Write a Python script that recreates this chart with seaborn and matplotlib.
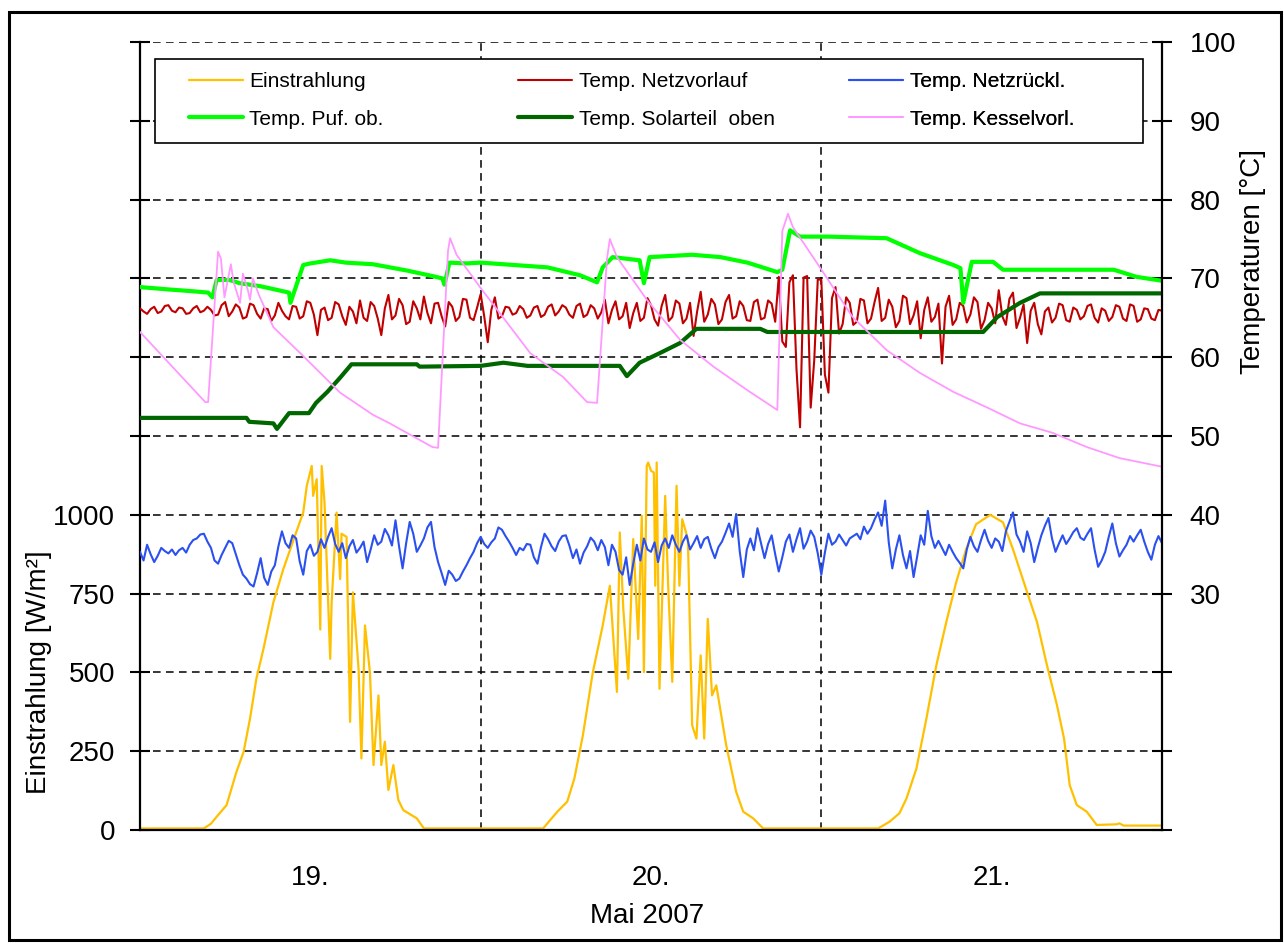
import matplotlib
matplotlib.use("Agg")
import matplotlib.pyplot as plt
from matplotlib.patches import Rectangle
from matplotlib.ticker import FuncFormatter
import seaborn as sns
import numpy as np

# x axis: hours since 19.05.2007 00:00
days = ["19.", "20.", "21."]

# Einstrahlung [W/m²] (hour, value)
sun_h = [0, 4.5, 5.0, 5.4, 6.1, 6.8, 7.3, 7.75, 8.2, 8.7, 9.4, 10.1, 11.0, 11.5, 11.75, 12.1,
         12.2, 12.45, 12.7, 12.8, 13.0, 13.4, 13.5, 13.85, 14.1, 14.2, 14.55, 14.8, 15.0, 15.4,
         15.6, 15.85, 16.2, 16.45, 16.8, 17.0, 17.25, 17.5, 17.85, 18.2, 18.55, 19.5, 20.0,
         28.4, 29.4, 30.1, 30.6, 31.2, 31.9, 32.6, 33.1, 33.6, 33.8, 34.05, 34.4, 34.75, 35.1,
         35.35, 35.5, 35.7, 35.8, 36.0, 36.2, 36.3, 36.4, 36.6, 37.0, 37.2, 37.5, 37.8, 38.0,
         38.2, 38.6, 38.9, 39.2, 39.5, 39.75, 40.0, 40.3, 40.6, 41.3, 42.0, 42.5, 43.2, 43.9,
         52.0, 52.8, 53.5, 54.0, 54.7, 55.4, 56.1, 56.8, 57.5, 58.2, 58.9, 59.9, 60.8, 61.5,
         62.5, 63.2, 63.9, 64.6, 65.1, 65.5, 66.0, 66.7, 67.4, 68.8, 69.0, 69.3, 72.0]
sun_w = [5, 5, 20, 42, 79, 185, 248, 353, 480, 575, 723, 828, 944, 1007, 1092, 1155,
         1060, 1113, 636, 1155, 1039, 543, 720, 1007, 796, 940, 930, 343, 754, 510,
         227, 649, 500, 206, 427, 206, 280, 127, 206, 95, 63, 37, 5,
         5, 58, 90, 163, 300, 500, 649, 775, 438, 944, 701, 480, 923, 606,
         997, 501, 1155, 1166, 1140, 1134, 775, 1166, 448, 1060, 786, 470, 1092, 775,
         986, 923, 332, 290, 554, 290, 670, 427, 459, 269, 121, 58, 37, 5,
         5, 26, 53, 100, 195, 353, 522, 659, 786, 891, 970, 1000, 976, 891,
         754, 659, 522, 396, 290, 142, 79, 58, 16, 18, 21, 14, 14]

# Temp. Netzvorlauf [°C], every 15 min
vorlauf = [66.2, 65.8, 65.5, 66.1, 66.4, 65.6, 65.8, 66.5, 66.6, 65.9, 65.7, 66.3,
           66.2, 65.5, 65.6, 66.2, 66.5, 65.7, 65.9, 66.4, 66.0, 65.3, 65.4, 66.6,
           67.0, 65.2, 65.8, 66.7, 66.3, 64.9, 65.1, 66.8, 66.6, 65.5, 64.9, 66.2,
           66.1, 64.6, 65.3, 66.9, 65.9, 65.2, 64.8, 66.5, 66.4, 64.9, 65.2, 67.1,
           66.9, 65.4, 62.8, 66.0, 66.3, 64.7, 65.0, 67.0, 66.7, 65.2, 64.1, 66.4,
           65.8, 64.3, 67.2, 65.0, 64.6, 67.0, 66.5, 64.9, 62.8, 66.2, 67.9, 64.8,
           65.3, 67.4, 66.6, 64.2, 64.5, 67.1, 66.2, 64.8, 67.7, 65.6, 64.3, 66.8,
           66.9, 65.2, 63.9, 67.0, 66.4, 64.6, 65.1, 67.4, 67.3, 65.0, 64.7, 66.3,
           68.0, 65.2, 61.9, 66.0, 67.6, 64.9, 65.2, 66.4, 66.3, 65.4, 65.6, 66.5,
           66.1, 65.0, 65.3, 66.3, 66.5, 65.1, 65.4, 66.4, 66.7, 65.3, 65.8, 66.6,
           66.3, 65.4, 65.0, 66.5, 66.8, 65.1, 65.4, 66.6, 66.2, 64.9, 65.7, 67.3,
           64.3, 66.0, 67.1, 64.8, 65.2, 66.9, 63.7, 65.6, 66.9, 64.6, 65.0, 67.5,
           66.6, 64.8, 64.0, 66.5, 67.9, 64.6, 65.1, 67.2, 66.8, 64.3, 64.9, 66.9,
           62.7, 65.8, 68.3, 64.5, 65.4, 67.4, 66.7, 64.2, 64.8, 67.0, 67.9, 64.9,
           65.2, 67.1, 66.5, 64.7, 64.6, 67.0, 67.3, 64.8, 65.0, 67.2, 66.8, 64.5,
           70.2, 62.0, 61.3, 69.5, 70.4, 58.5, 51.1, 70.1, 70.3, 53.6, 59.6, 69.9,
           69.8, 57.8, 55.5, 67.5, 68.9, 63.0, 64.2, 67.6, 66.9, 64.1, 64.5, 67.4,
           67.2, 64.3, 64.9, 67.0, 68.8, 64.6, 65.0, 67.3, 66.4, 63.8, 64.6, 67.8,
           67.5, 64.2, 65.3, 67.1, 62.4, 66.0, 67.6, 64.5, 65.1, 66.8, 59.2, 66.4,
           67.8, 64.1, 64.8, 66.9, 66.5, 64.4, 65.4, 67.6, 67.0, 63.6, 64.7, 66.9,
           66.2, 64.3, 68.5, 65.2, 64.1, 67.4, 68.2, 63.7, 65.0, 66.7, 61.8, 65.9,
           66.9, 64.2, 62.9, 65.8, 66.3, 64.4, 65.0, 66.8, 66.6, 64.7, 64.5, 66.3,
           66.0, 64.8, 65.2, 66.5, 66.7, 65.0, 64.4, 66.2, 65.9, 64.6, 65.1, 66.6,
           66.4, 64.9, 64.6, 66.7, 66.5, 64.5, 64.8, 66.2, 66.1, 64.9, 64.7, 66.0,
           65.9]

# Temp. Netzrückl. [°C], every 15 min
ruecklauf = [35.3, 34.2, 36.2, 35.0, 34.0, 34.8, 35.8, 35.4, 35.1, 35.6, 34.9, 35.5,
             35.8, 35.2, 36.2, 36.8, 37.0, 37.5, 37.6, 36.6, 35.8, 34.2, 33.8, 34.9,
             35.8, 36.7, 36.4, 35.0, 33.6, 32.4, 31.9, 31.2, 30.9, 32.6, 34.5, 32.0,
             31.1, 32.8, 33.6, 36.0, 37.9, 36.4, 35.8, 37.4, 37.0, 34.1, 32.4, 35.4,
             36.2, 34.8, 35.3, 36.9, 35.8, 37.2, 38.3, 36.3, 35.3, 36.4, 34.5, 36.0,
             36.8, 35.2, 35.8, 36.6, 34.0, 35.6, 37.4, 36.2, 36.6, 38.2, 37.4, 36.1,
             39.3, 36.0, 33.2, 36.4, 39.1, 37.6, 35.3, 36.1, 37.0, 38.4, 39.1, 35.9,
             34.0, 32.6, 31.1, 32.9, 32.4, 31.6, 31.9, 32.8, 33.6, 34.5, 35.3, 36.4,
             37.2, 36.3, 35.8, 36.5, 37.0, 38.4, 38.1, 37.3, 36.6, 35.8, 34.9, 35.8,
             35.5, 36.3, 36.2, 34.6, 33.8, 35.9, 37.6, 36.9, 36.0, 35.4, 36.6, 37.3,
             37.4, 36.1, 34.5, 35.6, 33.8, 35.2, 36.0, 37.1, 36.6, 35.5, 36.8, 35.9,
             33.6, 36.2, 35.3, 33.0, 32.4, 34.6, 31.1, 33.8, 36.2, 34.2, 37.0, 35.6,
             35.3, 36.5, 34.0, 36.1, 37.0, 35.8, 37.4, 36.2, 35.3, 36.6, 37.4, 35.6,
             36.4, 37.3, 35.8, 36.9, 37.2, 35.7, 34.5, 35.9, 36.6, 37.7, 38.9, 37.2,
             40.1, 35.4, 32.1, 35.6, 37.0, 35.5, 38.3, 36.4, 34.5, 36.3, 37.4, 35.0,
             32.8, 34.6, 36.6, 37.5, 35.3, 36.9, 38.3, 35.7, 36.6, 38.0, 37.2, 35.1,
             32.4, 35.2, 37.6, 36.2, 36.6, 37.5, 36.8, 36.1, 37.0, 37.3, 37.6, 36.9,
             38.5, 37.6, 38.3, 39.4, 40.3, 38.6, 41.8, 36.5, 33.2, 35.6, 37.4, 34.9,
             33.2, 35.4, 32.1, 34.7, 37.4, 36.2, 40.5, 37.3, 35.8, 36.7, 35.8, 34.9,
             36.2, 35.3, 34.5, 33.9, 33.2, 35.6, 37.2, 36.0, 35.3, 36.8, 38.1, 36.7,
             35.8, 37.0, 36.6, 35.4, 37.9, 39.1, 40.3, 37.5, 36.6, 35.3, 37.9, 36.4,
             34.0, 35.8, 37.4, 38.6, 39.6, 37.0, 35.3, 36.4, 37.4, 36.3, 37.0, 37.8,
             38.3, 37.1, 36.8, 37.6, 38.3, 35.6, 33.4, 34.2, 35.3, 37.2, 38.9, 36.4,
             34.7, 35.5, 36.2, 37.3, 36.6, 37.4, 38.1, 36.6, 35.3, 34.3, 36.2, 37.3,
             36.4]

# Temp. Puf. ob. [°C] (hour, value)
puf_h = [0, 2.0, 3.5, 4.8, 5.1, 5.4, 6.3, 7.0, 8.5, 10.5, 10.6, 11.5, 12.0, 13.4, 14.5,
         16.4, 18.8, 20.6, 21.3, 21.45, 21.8, 23.0, 24.0, 28.7, 31.0, 32.2, 32.6, 33.3,
         35.2, 35.5, 35.9, 38.9, 40.9, 42.8, 44.9, 45.25, 45.8, 46.5, 48.5, 52.6, 54.95,
         57.3, 57.8, 58.0, 58.6, 60.1, 60.8, 68.6, 70.2, 72.0]
puf_t = [68.9, 68.6, 68.4, 68.2, 67.6, 69.8, 69.8, 69.4, 69.0, 68.2, 66.9, 71.7, 71.9, 72.3, 72.0,
         71.8, 71.0, 70.3, 70.0, 69.2, 72.0, 71.9, 72.0, 71.4, 70.4, 69.5, 71.4, 72.7,
         72.3, 69.4, 72.7, 73.0, 72.7, 72.0, 70.8, 71.1, 76.1, 75.3, 75.3, 75.1, 73.2,
         71.7, 71.3, 66.9, 72.1, 72.1, 71.1, 71.1, 70.2, 69.7]

# Temp. Solarteil oben [°C] (hour, value)
solar_h = [0, 7.5, 7.7, 9.4, 9.65, 10.5, 11.9, 12.4, 13.2, 14.1, 14.9, 19.5, 19.7, 24.0,
           25.6, 27.3, 33.8, 34.3, 35.2, 36.6, 38.05, 39.2, 43.7, 44.2, 59.4, 60.4, 62.0,
           63.4, 72.0]
solar_t = [52.3, 52.3, 51.8, 51.6, 50.9, 52.9, 52.9, 54.2, 55.6, 57.4, 59.1, 59.1, 58.8, 58.9,
           59.3, 58.9, 58.9, 57.6, 59.3, 60.5, 61.8, 63.6, 63.6, 63.2, 63.2, 65.1, 66.9,
           68.1, 68.1]

# Temp. Kesselvorl. [°C] (hour, value)
kessel_h = [0, 4.6, 4.8, 5.5, 5.7, 5.95, 6.4, 6.6, 7.05, 7.25, 7.6, 7.75, 7.95, 8.4, 9.4,
            11.3, 14.1, 16.4, 17.6, 20.6, 21.0, 21.7, 21.85, 22.3, 23.95, 27.5, 29.8, 31.5,
            32.2, 32.9, 33.1, 33.6, 35.7, 38.05, 40.4, 42.8, 44.9, 45.25, 45.65, 46.0, 47.9,
            50.2, 52.6, 54.95, 57.3, 59.7, 62.0, 64.3, 66.7, 69.0, 72.0]
kessel_t = [63.2, 54.3, 54.3, 73.4, 72.5, 67.6, 71.8, 69.5, 66.9, 70.6, 68.5, 67.3, 70.0, 67.8, 63.8,
            60.5, 55.5, 52.7, 51.6, 48.6, 48.5, 73.5, 75.1, 73.0, 68.9, 60.5, 57.5, 54.3,
            54.2, 72.5, 75.0, 72.7, 67.3, 62.2, 58.8, 55.8, 53.3, 76.0, 78.2, 76.5, 71.4,
            65.1, 60.9, 58.0, 55.6, 53.6, 51.6, 50.4, 48.6, 47.2, 46.1]

vorlauf_h = np.arange(len(vorlauf)) * 0.25
ruecklauf_h = np.arange(len(ruecklauf)) * 0.25

sns.set_style("white")
plt.rcParams["font.family"] = ["Liberation Sans", "DejaVu Sans"]
for key in ["text.color", "axes.labelcolor", "xtick.color", "ytick.color"]:
    plt.rcParams[key] = "black"

fig = plt.figure(figsize=(12.84, 9.43), dpi=100)
ax = fig.add_axes([0.10903, 0.11983, 0.79595, 0.83563])
ax2 = ax.twinx()

kw = dict(estimator=None, sort=False, legend=False)
sns.lineplot(x=sun_h, y=sun_w, ax=ax, color="#FFC000", linewidth=1.6, **kw)
sns.lineplot(x=vorlauf_h, y=vorlauf, ax=ax2, color="#C00000", linewidth=1.5, **kw)
sns.lineplot(x=ruecklauf_h, y=ruecklauf, ax=ax2, color="#2B50F0", linewidth=1.5, **kw)
sns.lineplot(x=puf_h, y=puf_t, ax=ax2, color="#00FF00", linewidth=3.0, **kw)
sns.lineplot(x=solar_h, y=solar_t, ax=ax2, color="#006600", linewidth=3.0, **kw)
sns.lineplot(x=kessel_h, y=kessel_t, ax=ax2, color="#FF99FF", linewidth=1.3, **kw)

labels = ["Einstrahlung", "Temp. Netzvorlauf", "Temp. Netzrückl.",
          "Temp. Puf. ob.", "Temp. Solarteil  oben", "Temp. Kesselvorl."]
handles = ax.get_lines()[:1] + ax2.get_lines()[:5]

# axes ranges and ticks
ax.set_xlim(0, 72)
ax.set_ylim(0, 2500)
ax2.set_ylim(0, 100)
ax.set_xticks([0, 24, 48, 72])
ax.set_xticklabels([])
ax.set_xticks([12, 36, 60], minor=True)
ax.set_xticklabels(days, minor=True)
ax.set_yticks(np.arange(0, 2501, 250))
ax2.set_yticks(np.arange(0, 101, 10))
ax.yaxis.set_major_formatter(FuncFormatter(lambda v, p: f"{v:.0f}" if v <= 1000 else ""))
ax2.yaxis.set_major_formatter(FuncFormatter(lambda v, p: f"{v:.0f}" if v >= 30 else ""))

ax.tick_params(axis="x", which="major", direction="inout", length=14, width=1.5)
ax.tick_params(axis="x", which="minor", length=0, pad=25, labelsize=20)
ax.tick_params(axis="y", direction="inout", length=14, width=1.5, pad=11, labelsize=20)
ax2.tick_params(axis="y", direction="inout", length=14, width=1.5, pad=13, labelsize=20)

ax.grid(True, which="major", color="black", linestyle=(0, (5, 3.5)), linewidth=1.1)

for s in ["top", "right"]:
    ax.spines[s].set_visible(False)
for s in ["top", "left", "bottom"]:
    ax2.spines[s].set_visible(False)
for sp in [ax.spines["left"], ax.spines["bottom"], ax2.spines["right"]]:
    sp.set_linewidth(1.6)
    sp.set_color("black")

ax.set_ylabel("Einstrahlung [W/m²]", fontsize=20)
ax.yaxis.set_label_coords(-0.086, 0.2)
ax2.set_ylabel("Temperaturen [°C]", fontsize=20)
ax2.yaxis.set_label_coords(1.076, 0.721)
ax.set_xlabel("Mai 2007", fontsize=20)
ax.xaxis.set_label_coords(0.496, -0.093)

# legend box with three fixed columns
ax2.add_patch(Rectangle((0.0147, 0.872), 0.9667, 0.106, transform=ax2.transAxes,
                        facecolor="white", edgecolor="black", linewidth=1.2, zorder=10))
col_x = [0.048, 0.370, 0.694]
for i, x0 in enumerate(col_x):
    leg = ax2.legend([handles[i], handles[i + 3]], [labels[i], labels[i + 3]],
                     loc="center left", bbox_to_anchor=(x0, 0.926), frameon=False,
                     fontsize=15, handlelength=2.6, handletextpad=0.3, labelspacing=0.9,
                     borderpad=0, borderaxespad=0)
    leg.set_zorder(11)
    ax2.add_artist(leg)

# border around the whole figure
fig.patches.append(Rectangle((0.007, 0.003), 0.9907, 0.9843, transform=fig.transFigure,
                             fill=False, edgecolor="black", linewidth=2.2))

fig.savefig("out.png", dpi=100)
